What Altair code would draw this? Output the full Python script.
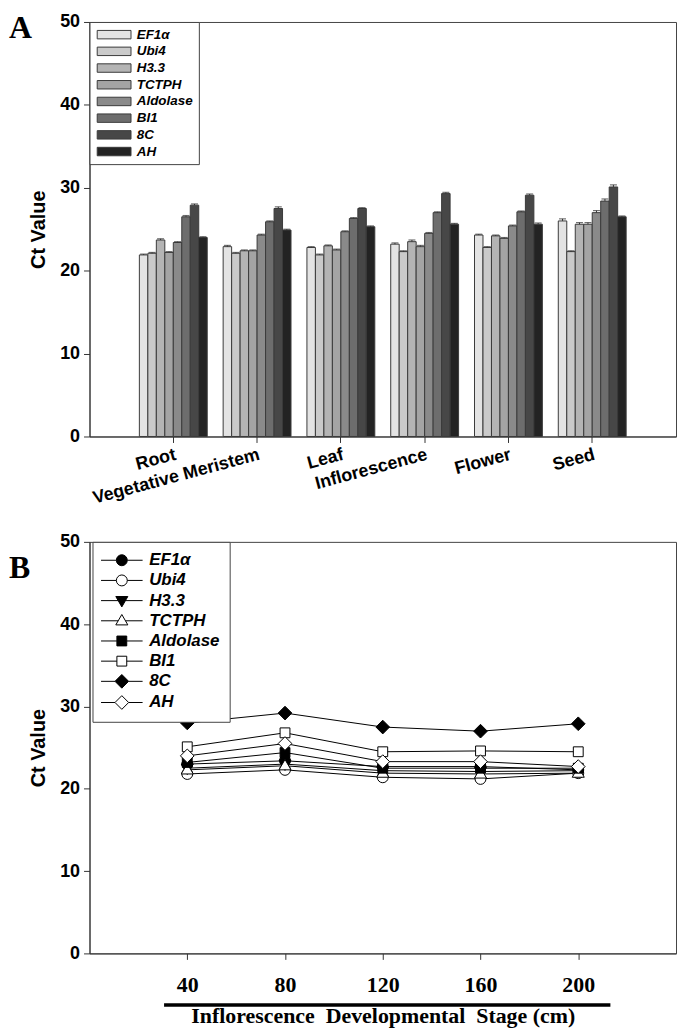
import altair as alt
import pandas as pd

# ---------------- data ----------------
genes = ["EF1α", "Ubi4", "H3.3", "TCTPH", "Aldolase", "BI1", "8C", "AH"]
tissues = ["Root", "Vegetative Meristem", "Leaf", "Inflorescence", "Flower", "Seed"]

ct_root = [21.9, 22.1, 23.7, 22.2, 23.4, 26.5, 27.9, 24.0]
ct_vegmer = [22.9, 22.1, 22.4, 22.4, 24.3, 25.9, 27.5, 24.9]
ct_leaf = [22.8, 21.9, 23.0, 22.5, 24.7, 26.3, 27.5, 25.3]
ct_infl = [23.2, 22.3, 23.5, 22.9, 24.5, 27.0, 29.3, 25.6]
ct_flower = [24.3, 22.8, 24.2, 23.9, 25.4, 27.1, 29.1, 25.6]
ct_seed = [26.0, 22.3, 25.6, 25.6, 27.0, 28.4, 30.1, 26.5]

err_root = [0.1, 0.1, 0.15, 0.1, 0.1, 0.15, 0.15, 0.1]
err_vegmer = [0.15, 0.1, 0.1, 0.1, 0.1, 0.1, 0.2, 0.1]
err_leaf = [0.1, 0.1, 0.1, 0.1, 0.1, 0.1, 0.1, 0.1]
err_infl = [0.15, 0.1, 0.2, 0.15, 0.1, 0.1, 0.15, 0.1]
err_flower = [0.1, 0.1, 0.1, 0.1, 0.1, 0.1, 0.15, 0.15]
err_seed = [0.25, 0.1, 0.2, 0.2, 0.25, 0.25, 0.25, 0.1]

stages = [40, 80, 120, 160, 200]
b_ef1a = [23.0, 23.4, 22.7, 22.7, 22.3]
b_ubi4 = [21.8, 22.3, 21.4, 21.2, 21.9]
b_h33 = [22.5, 23.0, 22.2, 22.1, 22.2]
b_tctph = [22.3, 22.8, 21.9, 21.8, 21.9]
b_aldolase = [23.2, 24.4, 22.5, 22.5, 22.5]
b_bi1 = [25.1, 26.8, 24.5, 24.6, 24.5]
b_8c = [28.0, 29.2, 27.5, 27.0, 27.9]
b_ah = [24.0, 25.5, 23.3, 23.3, 22.7]

greys = ["#e3e3e3", "#cacaca", "#b4b4b4", "#a4a4a4", "#8a8a8a", "#6d6d6d", "#474747", "#232323"]
fills_b = ["black", "white", "black", "white", "black", "white", "black", "white"]
strokes_b = ["black"] * 8

# unit-radius marker paths (data) and legend versions with line stubs
shape_paths = [
    "M-1,0A1,1,0,1,0,1,0A1,1,0,1,0,-1,0Z",
    "M-1,0A1,1,0,1,0,1,0A1,1,0,1,0,-1,0Z",
    "M0,1.15L1.1,-0.75L-1.1,-0.75Z",
    "M0,-1.15L1.1,0.75L-1.1,0.75Z",
    "M-0.9,-0.9H0.9V0.9H-0.9Z",
    "M-0.9,-0.9H0.9V0.9H-0.9Z",
    "M0,-1.25L1.25,0L0,1.25L-1.25,0Z",
    "M0,-1.25L1.25,0L0,1.25L-1.25,0Z",
]
stub_ends = [1.0, 1.0, 0.67, 0.67, 0.9, 0.9, 1.25, 1.25]
legend_paths = [
    f"M-3.8,0H-{e}M{e},0H3.8" + p for p, e in zip(shape_paths, stub_ends)
]

ct_table = [ct_root, ct_vegmer, ct_leaf, ct_infl, ct_flower, ct_seed]
err_table = [err_root, err_vegmer, err_leaf, err_infl, err_flower, err_seed]
rows_a = []
for t, cts, errs in zip(tissues, ct_table, err_table):
    for g, c, e in zip(genes, cts, errs):
        rows_a.append({"tissue": t, "gene": g, "ct": c, "hi": c + e})
df_a = pd.DataFrame(rows_a)

b_table = [b_ef1a, b_ubi4, b_h33, b_tctph, b_aldolase, b_bi1, b_8c, b_ah]
rows_b = []
for g, vals in zip(genes, b_table):
    for s, v in zip(stages, vals):
        rows_b.append({"stage": s, "gene": g, "ct": v})
df_b = pd.DataFrame(rows_b)

SANS = "Liberation Sans"
SERIF = "Liberation Serif"
AX = "#333333"

# ---------------- panel A ----------------
W = 590
xA = alt.X(
    "tissue:N", sort=tissues,
    scale=alt.Scale(paddingInner=0.19, paddingOuter=0.595),
    axis=alt.Axis(title=None, labelAngle=345, labelAlign="right", labelBaseline="top",
                  labelFont=SANS, labelFontSize=18, labelFontWeight="bold", labelColor="black",
                  labelPadding=3, labelOverlap=False, labelBound=False,
                  tickSize=6, tickColor=AX, domainColor=AX),
)
xoff = alt.XOffset("gene:N", sort=genes, scale=alt.Scale(domain=genes, paddingInner=0, paddingOuter=0))
yA = alt.Y(
    "ct:Q", scale=alt.Scale(domain=[0, 50]),
    axis=alt.Axis(title="Ct Value", values=[0, 10, 20, 30, 40, 50], grid=False,
                  labelFont=SANS, labelFontSize=18, labelFontWeight="bold", labelColor="black",
                  labelPadding=4, tickSize=6, tickColor=AX, domainColor=AX,
                  titleFont=SANS, titleFontSize=20, titleFontWeight="bold", titleColor="black",
                  titlePadding=11),
)

legA = alt.Legend(title=None, orient="none", legendX=0, legendY=0,
                  symbolType="M-4,-1H4V1H-4Z", symbolSize=72.25,
                  symbolStrokeColor="#3a3a3a", symbolStrokeWidth=1,
                  symbolOffset=12, labelOffset=16,
                  labelFont=SANS, labelFontSize=13.5, labelFontWeight="bold",
                  labelFontStyle="italic", labelColor="black",
                  rowPadding=1.8, padding=6, strokeColor="#444444", fillColor="white")
bars = alt.Chart(df_a).mark_bar(stroke="#3a3a3a", strokeWidth=1).encode(
    x=xA, xOffset=xoff, y=yA,
    fill=alt.Fill("gene:N", sort=genes, scale=alt.Scale(domain=genes, range=greys), legend=legA),
)
errs = alt.Chart(df_a).mark_rule(color="#333", strokeWidth=1).encode(
    x=alt.X("tissue:N", sort=tissues), xOffset=alt.XOffset("gene:N", sort=genes),
    y="ct:Q", y2="hi:Q",
)
caps = alt.Chart(df_a).mark_tick(color="#333", thickness=1.2, size=7).encode(
    x=alt.X("tissue:N", sort=tissues), xOffset=alt.XOffset("gene:N", sort=genes),
    y="hi:Q",
)
letterA = alt.Chart(pd.DataFrame({"t": ["A"]})).mark_text(
    font=SERIF, fontSize=32, fontWeight="bold", align="left", baseline="top", color="black"
).encode(text="t:N", x=alt.value(-81), y=alt.value(-9))

panelA = alt.layer(bars, errs, caps, letterA).properties(width=W, height=417)

# ---------------- panel B ----------------
xB = alt.X("stage:Q", scale=alt.Scale(domain=[0, 240], nice=False),
           axis=alt.Axis(title="Inflorescence\u00a0 Developmental\u00a0 Stage (cm)", values=stages,
                         grid=False,
                         labelFont=SERIF, labelFontSize=22, labelFontWeight="bold", labelColor="black",
                         labelPadding=15, tickSize=6, tickColor=AX, domainColor=AX,
                         titleFont=SERIF, titleFontSize=22, titleFontWeight="bold", titleColor="black",
                         titlePadding=11))
yB = alt.Y("ct:Q", scale=alt.Scale(domain=[0, 50]),
           axis=alt.Axis(title="Ct Value", values=[0, 10, 20, 30, 40, 50], grid=False,
                         labelFont=SANS, labelFontSize=18, labelFontWeight="bold", labelColor="black",
                         labelPadding=4, tickSize=6, tickColor=AX, domainColor=AX,
                         titleFont=SANS, titleFontSize=20, titleFontWeight="bold", titleColor="black",
                         titlePadding=11))

lines = alt.Chart(df_b).mark_line(color="black", strokeWidth=1).encode(
    x=xB, y=yB, detail="gene:N", order="stage:Q")
pts = alt.Chart(df_b).mark_point(filled=True, stroke="black", strokeWidth=1, size=121, opacity=1).encode(
    x="stage:Q", y="ct:Q",
    shape=alt.Shape("gene:N", scale=alt.Scale(domain=genes, range=shape_paths), legend=None),
    fill=alt.Fill("gene:N", scale=alt.Scale(domain=genes, range=fills_b), legend=None),
)
legB = alt.Legend(title=None, orient="none", legendX=3, legendY=0,
                  symbolSize=121, symbolStrokeColor="black", symbolStrokeWidth=1,
                  symbolOpacity=1, symbolOffset=11, labelOffset=19,
                  labelFont=SANS, labelFontSize=17, labelFontWeight="bold",
                  labelFontStyle="italic", labelColor="black",
                  rowPadding=2.3, padding=10, strokeColor="#444444", fillColor="white")
legpts = alt.Chart(df_b).transform_filter("false").mark_point(
    filled=True, strokeWidth=1, size=121, opacity=1).encode(
    x="stage:Q", y="ct:Q",
    shape=alt.Shape("gene:N", scale=alt.Scale(domain=genes, range=legend_paths), legend=legB),
    fill=alt.Fill("gene:N", scale=alt.Scale(domain=genes, range=fills_b), legend=legB),
    stroke=alt.Stroke("gene:N", scale=alt.Scale(domain=genes, range=strokes_b), legend=legB),
)
bar_line = alt.Chart(pd.DataFrame({"t": ["B"]})).mark_rule(color="black", strokeWidth=3.5).encode(
    x=alt.value(75), x2=alt.value(524), y=alt.value(466))
letterB = alt.Chart(pd.DataFrame({"t": ["B"]})).mark_text(
    font=SERIF, fontSize=32, fontWeight="bold", align="left", baseline="top", color="black"
).encode(text="t:N", x=alt.value(-81), y=alt.value(11))

panelB = alt.layer(lines, pts, legpts, bar_line, letterB).resolve_scale(
    shape="independent", fill="independent", stroke="independent").resolve_legend(
    shape="independent", fill="independent", stroke="independent").properties(width=W, height=414)

chart = alt.vconcat(panelA, panelB, spacing=24).properties(
    padding={"left": 0, "top": 0, "right": 0, "bottom": 0}
).configure_view(stroke="#444444", strokeWidth=1)

chart.save("out.html", embed_options={"renderer": "svg", "actions": False})
